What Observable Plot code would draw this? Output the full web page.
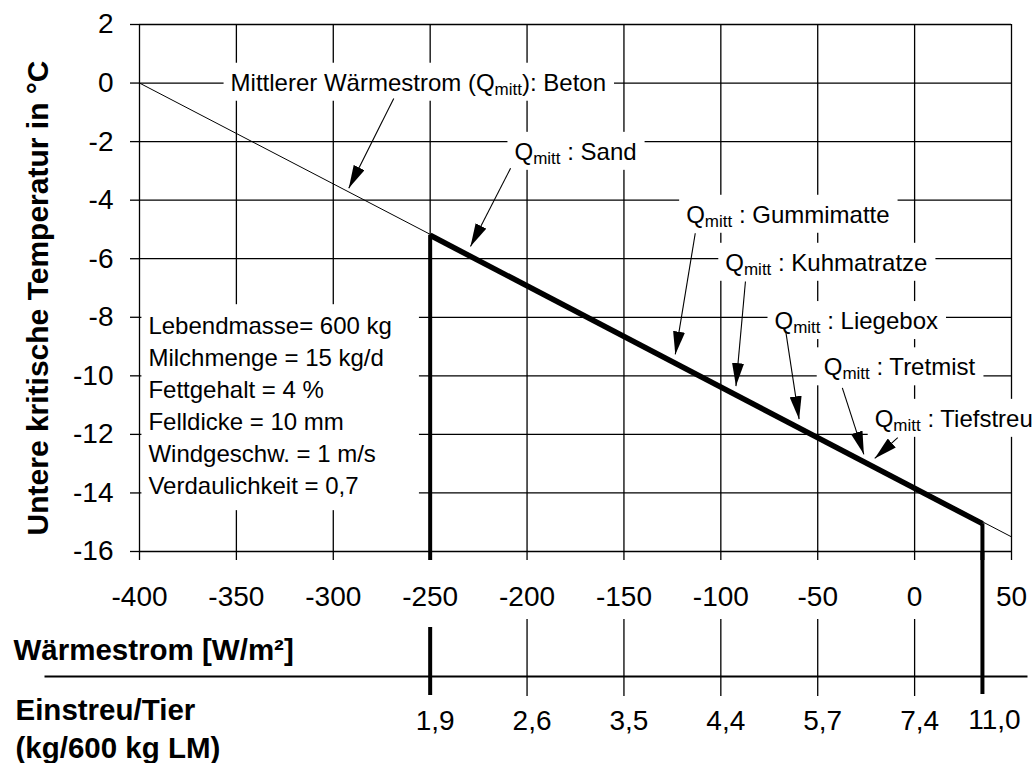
<!DOCTYPE html>
<html>
<head>
<meta charset="utf-8">
<script src="https://cdn.jsdelivr.net/npm/d3@7"></script>
<script src="https://cdn.jsdelivr.net/npm/@observablehq/plot@0.6"></script>
<style>
  html, body { margin: 0; padding: 0; background: #fff; }
  #chart { width: 1033px; height: 763px; }
</style>
</head>
<body>
<div id="chart"></div>
<script>
// Axis ticks: heat flux (W/m²) and lower critical temperature (°C)
const fluxTicks = [-400, -350, -300, -250, -200, -150, -100, -50, 0, 50];
const tempTicks = [2, 0, -2, -4, -6, -8, -10, -12, -14, -16];
const fluxDomain = [-400, 50];
const tempDomain = [-16, 2];

// Mean heat flux through concrete floor over the full range
const betonFlux = [-400, 50];
const betonTemp = [0, -15.5];

// Range covered by the bedding materials
const rangeFlux = [-250, 35];
const rangeTemp = [-5.2, -15.05];

// Bedding per animal at each heat flux
const beddingFlux = [-250, -200, -150, -100, -50, 0, 35];
const beddingLabels = ["1,9", "2,6", "3,5", "4,4", "5,7", "7,4", "11,0"];

// Floor types (annotation text anchor, in data units)
const noteLabels = [
  "Mittlerer Wärmestrom (Q_mitt): Beton",
  "Q_mitt : Sand",
  "Q_mitt : Gummimatte",
  "Q_mitt : Kuhmatratze",
  "Q_mitt : Liegebox",
  "Q_mitt : Tretmist",
  "Q_mitt : Tiefstreu"
];
const noteX = [-353, -206.5, -117.9, -97.7, -72.3, -46.9, -20.6];
const noteY = [0, -2.36, -4.51, -6.15, -8.14, -9.72, -11.48];

// Pointer from each label to the line
const arrowFromX = [-268.8, -208.5, -113.2, -87.3, -66.5, -37.3, -8.7];
const arrowFromY = [-0.53, -2.91, -5.13, -6.78, -8.48, -10.41, -12.11];
const arrowToX = [-292.0, -229.2, -123.5, -92.2, -59.6, -26.2, -20.6];
const arrowToY = [-3.59, -5.58, -9.27, -10.35, -11.48, -12.68, -12.82];

// Model assumptions
const params = [
  "Lebendmasse= 600 kg",
  "Milchmenge = 15 kg/d",
  "Fettgehalt = 4 %",
  "Felldicke = 10 mm",
  "Windgeschw. = 1 m/s",
  "Verdaulichkeit = 0,7"
];
const paramsAt = {x: -395.4, y: -10.96};

const yTitle = "Untere kritische Temperatur in °C";
const fluxTitle = "Wärmestrom [W/m²]";
const beddingTitle = "Einstreu/Tier\n(kg/600 kg LM)";

const betonLine = betonFlux.map((x, i) => ({x, y: betonTemp[i]}));
const rangeLine = rangeFlux.map((x, i) => ({x, y: rangeTemp[i]}));
const notes = noteLabels.map((text, i) => ({text, x: noteX[i], y: noteY[i]}));
const arrows = arrowFromX.map((x1, i) => ({x1, y1: arrowFromY[i], x2: arrowToX[i], y2: arrowToY[i]}));
const bedding = beddingFlux.map((x, i) => ({x, label: beddingLabels[i]}));

// Solid triangular arrow head
function solidHead(color, context) {
  const doc = (context && context.document) || document;
  const ns = "http://www.w3.org/2000/svg";
  const m = doc.createElementNS(ns, "marker");
  m.setAttribute("viewBox", "-23 -6 23 12");
  m.setAttribute("markerWidth", 23);
  m.setAttribute("markerHeight", 12);
  m.setAttribute("refX", 0);
  m.setAttribute("refY", 0);
  m.setAttribute("orient", "auto");
  m.setAttribute("markerUnits", "userSpaceOnUse");
  const p = doc.createElementNS(ns, "path");
  p.setAttribute("d", "M0,0L-23,-6L-23,6Z");
  p.setAttribute("fill", color);
  p.setAttribute("stroke", "none");
  m.appendChild(p);
  return m;
}

const ink = "black";

const chart = Plot.plot({
  width: 1033,
  height: 763,
  marginLeft: 139,
  marginRight: 22,
  marginTop: 24,
  marginBottom: 212,
  x: {domain: fluxDomain},
  y: {domain: tempDomain},
  style: {
    fontFamily: "'Liberation Sans', Arial, sans-serif",
    fontSize: "28px",
    color: ink,
    background: "white",
    overflow: "visible"
  },
  marks: [
    Plot.gridX(fluxTicks, {stroke: ink, strokeOpacity: 1, strokeWidth: 1.3}),
    Plot.gridY(tempTicks, {stroke: ink, strokeOpacity: 1, strokeWidth: 1.3}),
    Plot.axisX(fluxTicks, {
      tickSize: 9, tickPadding: 26, fontSize: 28, strokeWidth: 1.3,
      tickFormat: (d) => `${d}`, label: null
    }),
    Plot.axisY(tempTicks, {
      tickSize: 9, tickPadding: 17, fontSize: 28, strokeWidth: 1.3,
      tickFormat: (d) => `${d}`, label: null
    }),

    // Y title
    Plot.text([yTitle], {
      text: (d) => d, frameAnchor: "left", textAnchor: "middle", rotate: -90, dx: -101, dy: 10,
      fontWeight: "bold", fontSize: 30
    }),

    // Lines
    Plot.line(betonLine, {x: "x", y: "y", stroke: ink, strokeWidth: 1}),
    Plot.line(rangeLine, {x: "x", y: "y", stroke: ink, strokeWidth: 5.5, strokeLinecap: "butt"}),
    Plot.ruleX(rangeLine, {x: "x", y1: "y", y2: () => tempDomain[0], stroke: ink, strokeWidth: 4, insetBottom: -9}),

    // Lower table: heat flux row, separator, bedding row
    Plot.text([fluxTitle], {
      text: (d) => d, frameAnchor: "bottom-left", dx: -126, dy: 99,
      textAnchor: "start", lineAnchor: "middle", fontWeight: "bold", fontSize: 29.5
    }),
    Plot.frame({anchor: "bottom", dy: 125, insetLeft: -94, insetRight: -15, stroke: ink, strokeWidth: 2}),
    Plot.ruleX(beddingFlux.slice(1, 6), {stroke: ink, strokeWidth: 1.3, insetTop: 595, insetBottom: -145}),
    Plot.ruleX([rangeFlux[0]], {stroke: ink, strokeWidth: 4, insetTop: 603, insetBottom: -144}),
    Plot.ruleX([rangeFlux[1]], {stroke: ink, strokeWidth: 4, insetTop: 527, insetBottom: -143}),
    Plot.text([beddingTitle], {
      text: (d) => d, frameAnchor: "bottom-left", dx: -124, dy: 175,
      textAnchor: "start", lineAnchor: "middle", lineHeight: 1.32, fontWeight: "bold", fontSize: 29.5
    }),
    Plot.text(bedding.slice(0, 6), {x: "x", text: "label", frameAnchor: "bottom", dx: 5, dy: 178, fontSize: 28}),
    Plot.text(bedding.slice(6), {x: "x", text: "label", frameAnchor: "bottom", dx: 12, dy: 177, fontSize: 28}),

    // Annotations
    Plot.text(notes, {
      x: "x", y: "y", text: "text", textAnchor: "start", lineAnchor: "middle", fontSize: 24
    }),
    Plot.text([params.join("\n")], {
      x: () => paramsAt.x, y: () => paramsAt.y, text: (d) => d,
      textAnchor: "start", lineAnchor: "middle", lineHeight: 1.333, fontSize: 24
    }),
    Plot.link(arrows, {
      x1: "x1", y1: "y1", x2: "x2", y2: "y2",
      stroke: ink, strokeWidth: 1.1, markerEnd: solidHead
    })
  ]
});

document.getElementById("chart").appendChild(chart);

const root = d3.select(chart);
const noteTexts = root.selectAll("text").filter(function () {
  return this.textContent.includes("Q_mitt");
});
const paramTexts = root.selectAll("text").filter(function () {
  return this.textContent.includes(params[0]);
});

// Subscript "mitt" after Q
noteTexts.each(function () {
  const s = this.textContent;
  const i = s.indexOf("Q_mitt");
  const t = d3.select(this);
  t.text(null);
  t.append("tspan").text(s.slice(0, i + 1));
  t.append("tspan").attr("font-size", 17).attr("dy", 4).text("mitt");
  t.append("tspan").attr("dy", -4).text(s.slice(i + 6));
});

// White label boxes that interrupt the grid
const svgBox = chart.getBoundingClientRect();
const firstLine = root.select('g[aria-label="line"]').node();
const boxes = d3.select(chart.insertBefore(
  document.createElementNS("http://www.w3.org/2000/svg", "g"), firstLine
)).attr("fill", "white");
function addBox(node, pl, pr, pt, pb) {
  const r = node.getBoundingClientRect();
  boxes.append("rect")
    .attr("x", r.left - svgBox.left - pl)
    .attr("y", r.top - svgBox.top - pt)
    .attr("width", r.width + pl + pr)
    .attr("height", r.height + pt + pb);
}
noteTexts.each(function () { addBox(this, 7, 8, 6, 2); });
paramTexts.each(function () { addBox(this, 7, 27, 8, 11); });
</script>
</body>
</html>
